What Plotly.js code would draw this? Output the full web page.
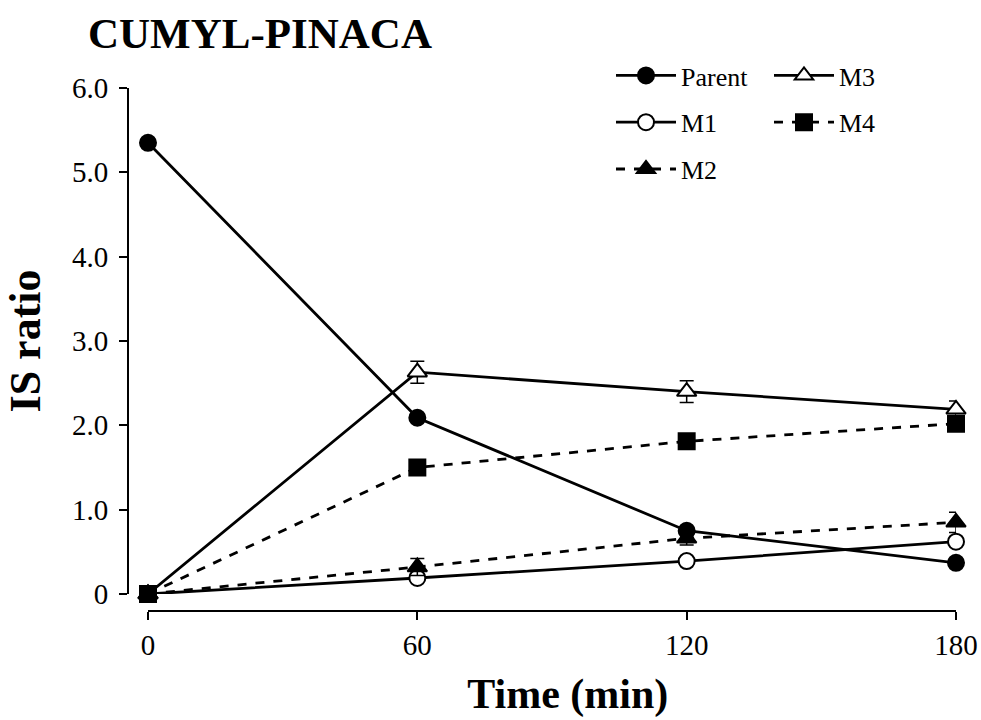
<!DOCTYPE html>
<html><head><meta charset="utf-8">
<script src="https://cdn.plot.ly/plotly-3.0.1.min.js"></script>
<style>html,body{margin:0;padding:0;background:#fff}</style>
</head><body><div id="chart" style="width:981px;height:720px"></div>
<script>
const times = [0, 60, 120, 180];
const parent = [5.35, 2.09, 0.75, 0.37];
const parentErr = [0.04, 0.04, 0.04, 0.04];
const m1 = [0, 0.19, 0.39, 0.62];
const m1Err = [0, 0, 0, 0];
const m2 = [0, 0.32, 0.66, 0.85];
const m2Err = [0, 0.1, 0.08, 0.12];
const m3 = [0, 2.63, 2.40, 2.19];
const m3Err = [0, 0.13, 0.13, 0.1];
const m4 = [0, 1.50, 1.81, 2.02];
const m4Err = [0, 0, 0, 0];
const yTickVals = [0, 1, 2, 3, 4, 5, 6];
const yTickText = ['0', '1.0', '2.0', '3.0', '4.0', '5.0', '6.0'];
const xTickVals = [0, 60, 120, 180];

function tr(name, y, err, symbol, fill, dash, legend, rank) {
  return {
    x: times, y: y, name: name, type: 'scatter', mode: 'lines+markers',
    cliponaxis: false, legend: legend, legendgroup: name, legendrank: rank,
    line: {color: '#000', width: 2.8, dash: dash},
    marker: {symbol: symbol, size: symbol === 'triangle-up' ? 17 : 16, color: fill, line: {color: '#000', width: 2}},
    error_y: {type: 'data', array: err, visible: true, color: '#000', thickness: 1.5, width: 7}
  };
}
const data = [
  tr('M1', m1, m1Err, 'circle', '#fff', 'solid', 'legend', 2),
  tr('M3', m3, m3Err, 'triangle-up', '#fff', 'solid', 'legend2', 1),
  tr('Parent', parent, parentErr, 'circle', '#000', 'solid', 'legend', 1),
  tr('M2', m2, m2Err, 'triangle-up', '#000', 'dash', 'legend', 3),
  tr('M4', m4, m4Err, 'square', '#000', 'dash', 'legend2', 2)
];
const fam = 'Liberation Serif, Times New Roman, serif';
const legendBase = {
  font: {family: fam, size: 26, color: '#000'},
  bgcolor: 'rgba(0,0,0,0)', tracegroupgap: 10, itemwidth: 60,
  traceorder: 'grouped', yanchor: 'top', xanchor: 'left'
};
const layout = {
  width: 981, height: 720,
  margin: {l: 0, r: 0, t: 0, b: 0},
  paper_bgcolor: '#fff', plot_bgcolor: '#fff',
  showlegend: true,
  font: {family: fam, color: '#000'},
  title: {text: '<b>CUMYL-PINACA</b>', x: 88/981, xanchor: 'left', xref: 'paper', y: 1 - 33/720, yanchor: 'middle', yref: 'paper', font: {family: fam, size: 43, color: '#000'}},
  xaxis: {
    domain: [148/981, 956/981], range: [0, 180], anchor: 'free', position: 1 - 611/720,
    tickvals: xTickVals, ticks: 'outside', ticklen: 8, tickwidth: 2, tickcolor: '#000',
    showline: true, linecolor: '#000', linewidth: 2, showgrid: false, zeroline: false,
    tickfont: {family: fam, size: 29, color: '#000'},
    title: {text: '<b>&nbsp;&nbsp;&nbsp;Time (min)</b>', font: {family: fam, size: 42, color: '#000'}, standoff: 18}
  },
  yaxis: {
    domain: [1 - 594/720, 1 - 88/720], range: [0, 6], anchor: 'free', position: 128/981,
    tickvals: yTickVals, ticktext: yTickText, ticks: 'outside', ticklen: 8, tickwidth: 2, tickcolor: '#000',
    ticklabelstandoff: 5,
    showline: true, linecolor: '#000', linewidth: 2, showgrid: false, zeroline: false,
    tickfont: {family: fam, size: 29, color: '#000'},
    title: {text: '<b>IS ratio</b>', font: {family: fam, size: 44, color: '#000'}, standoff: 17}
  },
  legend: Object.assign({}, legendBase, {x: 611/981, y: 1 - 52/720}),
  legend2: Object.assign({}, legendBase, {x: 769/981, y: 1 - 52/720})
};
Plotly.newPlot('chart', data, layout, {displayModeBar: false, staticPlot: true});
</script></body></html>
